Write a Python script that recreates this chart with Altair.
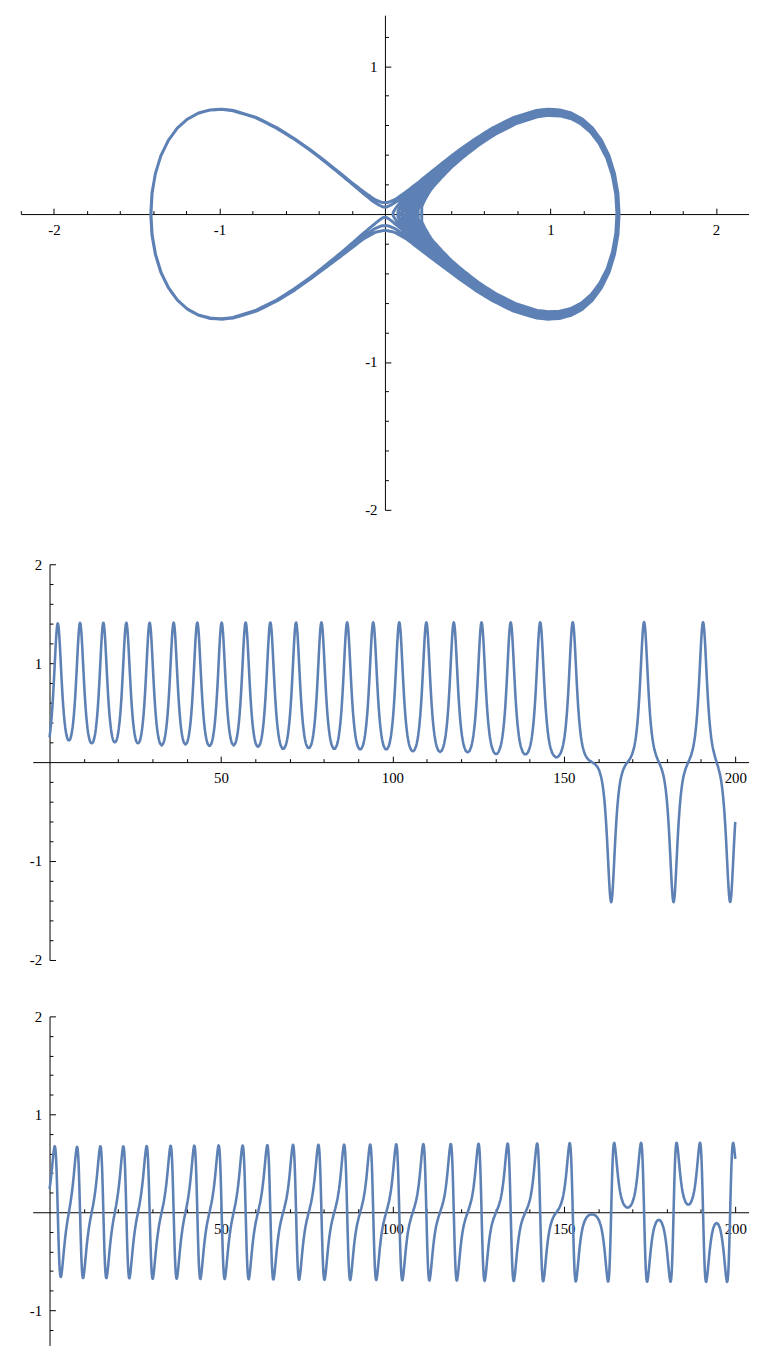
import numpy as np
import pandas as pd
import altair as alt

# ---- values ----
# times of the x-pulses (peaks of x(t) in the middle panel) and their sign
pulse_t = [2.4, 8.9, 15.7, 22.4, 29.2, 36.2, 43.1, 50.2, 57.2, 64.4, 71.9, 79.3,
           86.8, 94.4, 102.0, 109.9, 117.9, 126.0, 134.5, 143.1, 152.6,
           163.8, 173.4, 182.0, 190.6, 198.5]
pulse_sign = [1] * 21 + [-1, 1, -1, 1, -1]
# peak |x| and peak |y| of every pulse (inner to outer edge of the band in the top panel)
pulse_peak = [1.397, 1.399, 1.401, 1.401, 1.402, 1.403, 1.404, 1.404, 1.405, 1.407,
              1.407, 1.408, 1.408, 1.409, 1.410, 1.410, 1.411, 1.412, 1.412, 1.413,
              1.414, 1.415, 1.415, 1.415, 1.415, 1.415]
pulse_vmax = [0.672, 0.677, 0.680, 0.680, 0.683, 0.684, 0.686, 0.687, 0.688, 0.691,
              0.693, 0.694, 0.695, 0.696, 0.698, 0.699, 0.700, 0.702, 0.703, 0.704,
              0.706, 0.708, 0.708, 0.708, 0.708, 0.708]

# shape of one pulse: distance from the pulse centre -> x and |y|
pulse_off = [0, 0.1, 0.2, 0.3, 0.4, 0.5, 0.6, 0.7, 0.8, 0.9, 1.0, 1.2, 1.4, 1.6, 1.8,
             2.0, 2.2, 2.4, 2.6, 2.8, 3.0, 3.5, 4.0, 4.5, 5.0, 6.0, 7.0, 8.0]
pulse_x = [1.414, 1.407, 1.386, 1.353, 1.308, 1.254, 1.193, 1.127, 1.057, 0.987, 0.917,
           0.781, 0.657, 0.549, 0.455, 0.376, 0.310, 0.254, 0.209, 0.171, 0.140,
           0.085, 0.052, 0.031, 0.019, 0.007, 0.003, 0.001]
pulse_y = [0.0, 0.140, 0.274, 0.394, 0.497, 0.580, 0.641, 0.681, 0.702, 0.707, 0.698,
           0.651, 0.582, 0.506, 0.431, 0.362, 0.302, 0.250, 0.207, 0.170, 0.139,
           0.085, 0.052, 0.031, 0.019, 0.007, 0.003, 0.001]
t_start, t_end, t_step = 0.0, 200.0, 0.05

# tick values
top_x_major = [-2, -1, 1, 2]
top_x_minor = [-2.2, -1.8, -1.6, -1.4, -1.2, -0.8, -0.6, -0.4, -0.2,
               0.2, 0.4, 0.6, 0.8, 1.2, 1.4, 1.6, 1.8, 2.2]
top_y_major = [-2, -1, 1]
top_y_minor = [-1.8, -1.6, -1.4, -1.2, -0.8, -0.6, -0.4, -0.2,
               0.2, 0.4, 0.6, 0.8, 1.2]
t_major = [50, 100, 150, 200]
t_minor = [10, 20, 30, 40, 60, 70, 80, 90, 110, 120, 130, 140, 160, 170, 180, 190]
mid_y_major = [-2, -1, 1, 2]
mid_y_minor = [-1.8, -1.6, -1.4, -1.2, -0.8, -0.6, -0.4, -0.2,
               0.2, 0.4, 0.6, 0.8, 1.2, 1.4, 1.6, 1.8]
bot_y_major = [-1, 1, 2]
bot_y_minor = [-1.2, -0.8, -0.6, -0.4, -0.2,
               0.2, 0.4, 0.6, 0.8, 1.2, 1.4, 1.6, 1.8]

# ---- build the series from the read values ----
t = np.round(np.arange(t_start, t_end + 1e-9, t_step), 3)
off = np.array(pulse_off)
px = np.array(pulse_x)
py = np.array(pulse_y)
xv = np.zeros_like(t)
yv = np.zeros_like(t)
for tc, s, pk, vm in zip(pulse_t, pulse_sign, pulse_peak, pulse_vmax):
    d = t - tc
    a = np.abs(d)
    xv += s * (pk / pulse_x[0]) * np.interp(a, off, px, right=0.0)
    yv += s * (vm / max(pulse_y)) * (-np.sign(d)) * np.interp(a, off, py, right=0.0)

df = pd.DataFrame({"t": t, "x": np.round(xv, 4), "y": np.round(yv, 4)})
dummy = pd.DataFrame({"a": [0.0], "b": [0.0]})

W, H = 749, 1345
LINE = "#5E81B5"


def pos(v, dom, rng):
    return rng[0] + (v - dom[0]) / (dom[1] - dom[0]) * (rng[1] - rng[0])


def panel(xf, yf, xdom, xrng, ydom, yrng, xmaj, xmin, ymaj, ymin, width, order):
    xs = alt.Scale(domain=xdom, range=xrng, nice=False, zero=False)
    ys = alt.Scale(domain=ydom, range=yrng, nice=False, zero=False)
    x0 = pos(0, xdom, xrng)  # where the vertical axis sits
    y0 = pos(0, ydom, yrng)  # where the horizontal axis sits

    enc = dict(
        x=alt.X(f"{xf}:Q", scale=xs,
                axis=alt.Axis(orient="top", offset=-y0, values=xmaj, tickSize=6,
                              labels=False, domain=True, grid=False, title=None)),
        y=alt.Y(f"{yf}:Q", scale=ys,
                axis=alt.Axis(orient="right", offset=x0 - W, values=ymaj, tickSize=6,
                              labels=False, domain=True, grid=False, title=None)),
    )
    if order:
        enc["order"] = alt.Order("t:Q")
    line = alt.Chart(df).mark_line(color=LINE, strokeWidth=width,
                                   strokeJoin="round").encode(**enc)

    minor = alt.Chart(dummy).mark_point(opacity=0).encode(
        x=alt.X("a:Q", scale=xs,
                axis=alt.Axis(orient="top", offset=-y0, values=xmin, tickSize=3.5,
                              labels=False, domain=False, grid=False, title=None)),
        y=alt.Y("b:Q", scale=ys,
                axis=alt.Axis(orient="right", offset=x0 - W, values=ymin, tickSize=3.5,
                              labels=False, domain=False, grid=False, title=None)),
    )
    labels = alt.Chart(dummy).mark_point(opacity=0).encode(
        x=alt.X("a:Q", scale=xs,
                axis=alt.Axis(orient="bottom", offset=y0 - H, values=xmaj, ticks=False,
                              labels=True, labelPadding=9, domain=False, grid=False,
                              title=None, labelExpr="toString(datum.value)")),
        y=alt.Y("b:Q", scale=ys,
                axis=alt.Axis(orient="left", offset=-x0, values=ymaj, ticks=False,
                              labels=True, labelPadding=8, domain=False, grid=False,
                              title=None, labelExpr="toString(datum.value)")),
    )
    return [line, minor, labels]


layers = []
# phase portrait
layers += panel("x", "y", [-2.2, 2.2], [13, 749], [-2, 1.345], [500, 0],
                top_x_major, top_x_minor, top_y_major, top_y_minor, 3.0, True)
# x(t)
layers += panel("t", "x", [-4.9, 204], [25, 749], [-2, 2], [955, 555],
                t_major, t_minor, mid_y_major, mid_y_minor, 2.6, False)
# y(t)
layers += panel("t", "y", [-4.9, 204], [25, 749], [-1.36, 2],
                [1210 + 1.36 * 99, 1012],
                t_major, t_minor, bot_y_major, bot_y_minor, 2.6, False)

chart = alt.layer(*layers).resolve_scale(
    x="independent", y="independent"
).resolve_axis(
    x="independent", y="independent"
).properties(
    width=W, height=H, padding=0, autosize=alt.AutoSizeParams(type="none")
).configure_view(
    stroke=None
).configure_axis(
    labelFont="Liberation Serif", labelFontSize=15, labelColor="#000",
    domainColor="#000", tickColor="#000", domainWidth=1, tickWidth=1,
    labelAngle=0
)

chart.save("out.html", embed_options={"renderer": "svg", "actions": False})
